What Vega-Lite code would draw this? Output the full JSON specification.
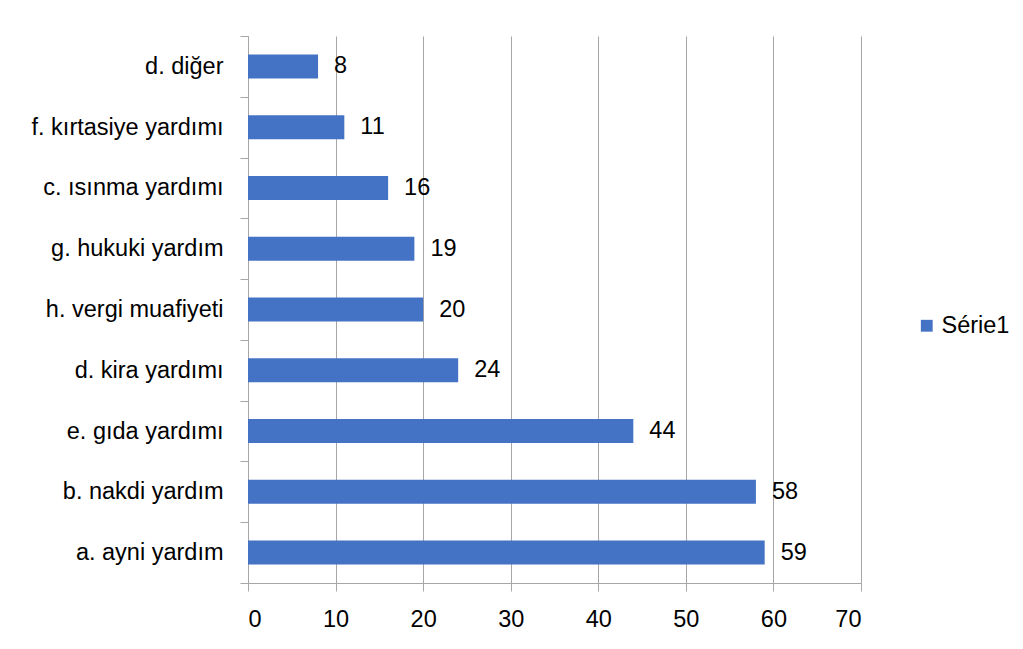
{
  "$schema": "https://vega.github.io/schema/vega-lite/v6.json",
  "autosize": "none",
  "width": 613,
  "height": 547,
  "padding": {"left": 248, "top": 36, "right": 162, "bottom": 66},
  "background": "white",
  "config": {
    "font": "Liberation Sans",
    "view": {"stroke": null}
  },
  "data": {
    "values": [
      {"category": "d. diğer", "value": 8, "series": "Série1"},
      {"category": "f. kırtasiye yardımı", "value": 11, "series": "Série1"},
      {"category": "c. ısınma yardımı ", "value": 16, "series": "Série1"},
      {"category": "g. hukuki yardım", "value": 19, "series": "Série1"},
      {"category": "h. vergi muafiyeti", "value": 20, "series": "Série1"},
      {"category": "d. kira yardımı", "value": 24, "series": "Série1"},
      {"category": "e. gıda yardımı", "value": 44, "series": "Série1"},
      {"category": "b. nakdi yardım", "value": 58, "series": "Série1"},
      {"category": "a. ayni yardım", "value": 59, "series": "Série1"}
    ]
  },
  "encoding": {
    "y": {
      "field": "category",
      "type": "nominal",
      "sort": null,
      "scale": {"paddingInner": 0, "paddingOuter": 0},
      "axis": {
        "title": null,
        "labelFontSize": 23.5,
        "labelColor": "#000000",
        "labelPadding": 17,
        "labelLimit": 400,
        "tickBand": "extent",
        "tickSize": 8,
        "tickColor": "#a6a6a6",
        "domainColor": "#a6a6a6",
        "grid": false
      }
    },
    "x": {
      "field": "value",
      "type": "quantitative",
      "scale": {"domain": [0, 70]},
      "axis": {
        "title": null,
        "values": [0, 10, 20, 30, 40, 50, 60, 70],
        "labelFontSize": 23.5,
        "labelColor": "#000000",
        "labelPadding": 16,
        "tickSize": 8,
        "tickColor": "#a6a6a6",
        "domainColor": "#a6a6a6",
        "gridColor": "#a6a6a6",
        "gridOpacity": 1
      }
    }
  },
  "layer": [
    {
      "mark": {"type": "bar", "color": "#4472C4", "size": 24},
      "encoding": {
        "color": {
          "field": "series",
          "type": "nominal",
          "scale": {"range": ["#4472C4"]},
          "legend": {
            "title": null,
            "orient": "none",
            "legendX": 667,
            "legendY": 278,
            "symbolType": "square",
            "symbolSize": 140,
            "symbolStrokeWidth": 0,
            "labelFontSize": 23.5,
            "labelColor": "#000000",
            "labelOffset": 3
          }
        }
      }
    },
    {
      "mark": {"type": "text", "align": "left", "baseline": "middle", "dx": 16, "fontSize": 23.5, "color": "#000000"},
      "encoding": {"text": {"field": "value", "type": "quantitative"}}
    }
  ]
}
